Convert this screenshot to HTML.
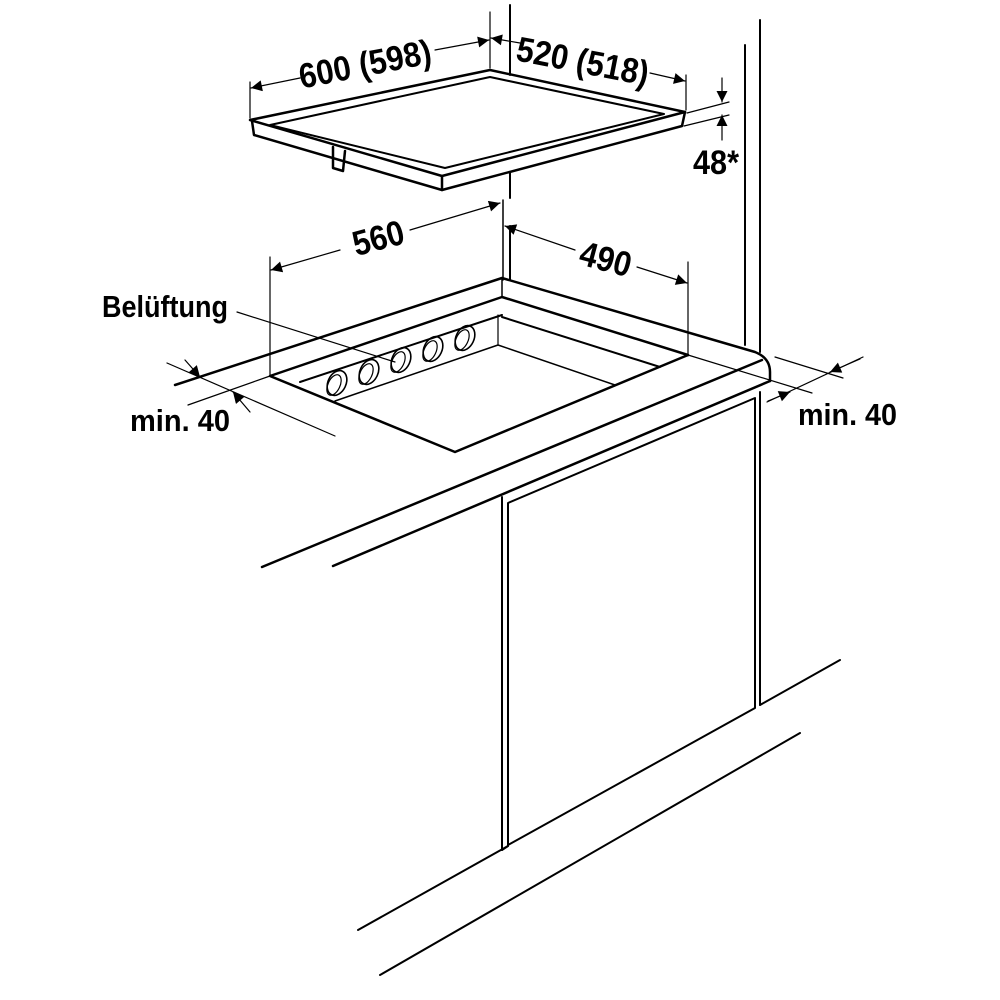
<!DOCTYPE html>
<html><head><meta charset="utf-8"><style>
html,body{margin:0;padding:0;background:#fff;}
svg{display:block}
text{font-family:"Liberation Sans",sans-serif;font-weight:bold;fill:#000;}
</style></head><body>
<svg width="1000" height="1000" viewBox="0 0 1000 1000" xmlns="http://www.w3.org/2000/svg">
<defs>
<marker id="a" viewBox="0 0 10 10" refX="10" refY="5" markerWidth="15" markerHeight="11" markerUnits="userSpaceOnUse" orient="auto"><path d="M0,0L10,5L0,10z" fill="#000"/></marker>
</defs>
<g fill="none" stroke="#000" stroke-linecap="round" stroke-linejoin="round">
<g stroke-width="2.5">
<path d="M250,120 L490,70 L685,112 L442,176 Z"/>
<path d="M270,125 L490,77 L664,114 L445,168 Z" stroke-width="2"/>
<path d="M252,121 L254,135 L442,190 L682,126 L685,112"/>
<path d="M442,176 L442,190"/>
<path d="M333,147 L333,168 L343,171 L345,151"/>
</g>
<g stroke-width="1.2">
<line x1="250" y1="82" x2="250" y2="118"/>
<line x1="490" y1="12" x2="490" y2="68"/>
<line x1="686" y1="75" x2="686" y2="110"/>
<line x1="300" y1="78" x2="251" y2="88" marker-end="url(#a)"/>
<line x1="435" y1="50" x2="489" y2="40" marker-end="url(#a)"/>
<line x1="520" y1="43" x2="491" y2="38" marker-end="url(#a)"/>
<line x1="650" y1="73" x2="685" y2="81" marker-end="url(#a)"/>
<line x1="510" y1="5" x2="510" y2="75" stroke-width="2"/>
<line x1="510" y1="172" x2="510" y2="198" stroke-width="2"/>
<line x1="510" y1="226" x2="510" y2="280" stroke-width="2"/>
<line x1="503" y1="200" x2="503" y2="280" stroke-width="1.5"/>
<line x1="687" y1="113" x2="729" y2="102"/>
<line x1="684" y1="126" x2="729" y2="115"/>
<line x1="722" y1="78" x2="722" y2="102" marker-end="url(#a)"/>
<line x1="722" y1="140" x2="722" y2="115" marker-end="url(#a)"/>
<line x1="270" y1="257" x2="270" y2="375"/>
<line x1="688" y1="262" x2="688" y2="356"/>
<line x1="340" y1="250" x2="271" y2="270" marker-end="url(#a)"/>
<line x1="410" y1="230" x2="500" y2="203" marker-end="url(#a)"/>
<line x1="575" y1="250" x2="505" y2="226" marker-end="url(#a)"/>
<line x1="637" y1="267" x2="687" y2="283" marker-end="url(#a)"/>
</g>
<line x1="745" y1="45" x2="745" y2="345" stroke-width="2"/>
<line x1="760" y1="20" x2="760" y2="352" stroke-width="2"/>
<g stroke-width="2.5">
<path d="M175,385 L502,278 L755,352 Q770,358 770,372 L770,381"/>
<path d="M262,567 L762,360"/>
<path d="M333,566 L770,381"/>
<path d="M270,376 L502,297 L688,355 L455,452 Z"/>
<path d="M300,382 L502,315" stroke-width="2"/>
<path d="M502,317 L660,367" stroke-width="2"/>
<path d="M335,401 L498,345 L615,385" stroke-width="1.5"/>
</g>
<line x1="502" y1="278" x2="502" y2="297" stroke-width="1.5"/>
<line x1="498" y1="315" x2="498" y2="345" stroke-width="1.2"/>
<line x1="688" y1="355" x2="812" y2="393" stroke-width="1.2"/>
<g stroke-width="1.6">
<ellipse cx="337" cy="383" rx="9" ry="13" transform="rotate(25 337 383)"/>
<ellipse cx="334" cy="385" rx="6" ry="11" transform="rotate(25 334 385)" stroke-width="1.2"/>
<ellipse cx="369" cy="372" rx="9" ry="13" transform="rotate(25 369 372)"/>
<ellipse cx="366" cy="374" rx="6" ry="11" transform="rotate(25 366 374)" stroke-width="1.2"/>
<ellipse cx="401" cy="360" rx="9" ry="13" transform="rotate(25 401 360)"/>
<ellipse cx="398" cy="362" rx="6" ry="11" transform="rotate(25 398 362)" stroke-width="1.2"/>
<ellipse cx="433" cy="349" rx="9" ry="13" transform="rotate(25 433 349)"/>
<ellipse cx="430" cy="351" rx="6" ry="11" transform="rotate(25 430 351)" stroke-width="1.2"/>
<ellipse cx="465" cy="338" rx="9" ry="13" transform="rotate(25 465 338)"/>
<ellipse cx="462" cy="340" rx="6" ry="11" transform="rotate(25 462 340)" stroke-width="1.2"/>
</g>
<line x1="237" y1="312" x2="395" y2="362" stroke-width="1.2"/>
<g stroke-width="1.2">
<line x1="167" y1="363" x2="335" y2="436"/>
<line x1="270" y1="376" x2="188" y2="405"/>
<line x1="185" y1="360" x2="200" y2="377" marker-end="url(#a)"/>
<line x1="250" y1="412" x2="233" y2="392" marker-end="url(#a)"/>
</g>
<g stroke-width="1.2">
<line x1="775" y1="357" x2="843" y2="378"/>
<line x1="767" y1="402" x2="863" y2="357"/>
<line x1="860" y1="359" x2="830" y2="372" marker-end="url(#a)"/>
<line x1="768" y1="401" x2="790" y2="392" marker-end="url(#a)"/>
</g>
<g stroke-width="2">
<line x1="502" y1="497" x2="502" y2="850"/>
<path d="M508,845 L508,503 L755,398 L755,708 L508,845"/>
<line x1="760" y1="392" x2="760" y2="705"/>
<line x1="760" y1="705" x2="840" y2="660"/>
<line x1="502" y1="850" x2="508" y2="846"/>
<line x1="358" y1="930" x2="508" y2="846"/>
<line x1="380" y1="975" x2="800" y2="733"/>
</g>
</g>
<g font-size="35">
<text x="298" y="76" textLength="134" lengthAdjust="spacingAndGlyphs" transform="rotate(-11 365 64)">600 (598)</text>
<text x="516" y="73" textLength="134" lengthAdjust="spacingAndGlyphs" transform="rotate(11 582 60)">520 (518)</text>
<text x="693" y="174" font-size="34" textLength="46" lengthAdjust="spacingAndGlyphs">48*</text>
<text x="352" y="250" textLength="52" lengthAdjust="spacingAndGlyphs" transform="rotate(-15 378 237)">560</text>
<text x="580" y="271" textLength="52" lengthAdjust="spacingAndGlyphs" transform="rotate(15 606 258)">490</text>
<text x="102" y="317" font-size="31" textLength="126" lengthAdjust="spacingAndGlyphs">Belüftung</text>
<text x="130" y="431" font-size="31" textLength="100" lengthAdjust="spacingAndGlyphs">min. 40</text>
<text x="798" y="425" font-size="31" textLength="99" lengthAdjust="spacingAndGlyphs">min. 40</text>
</g>
</svg>
</body></html>
